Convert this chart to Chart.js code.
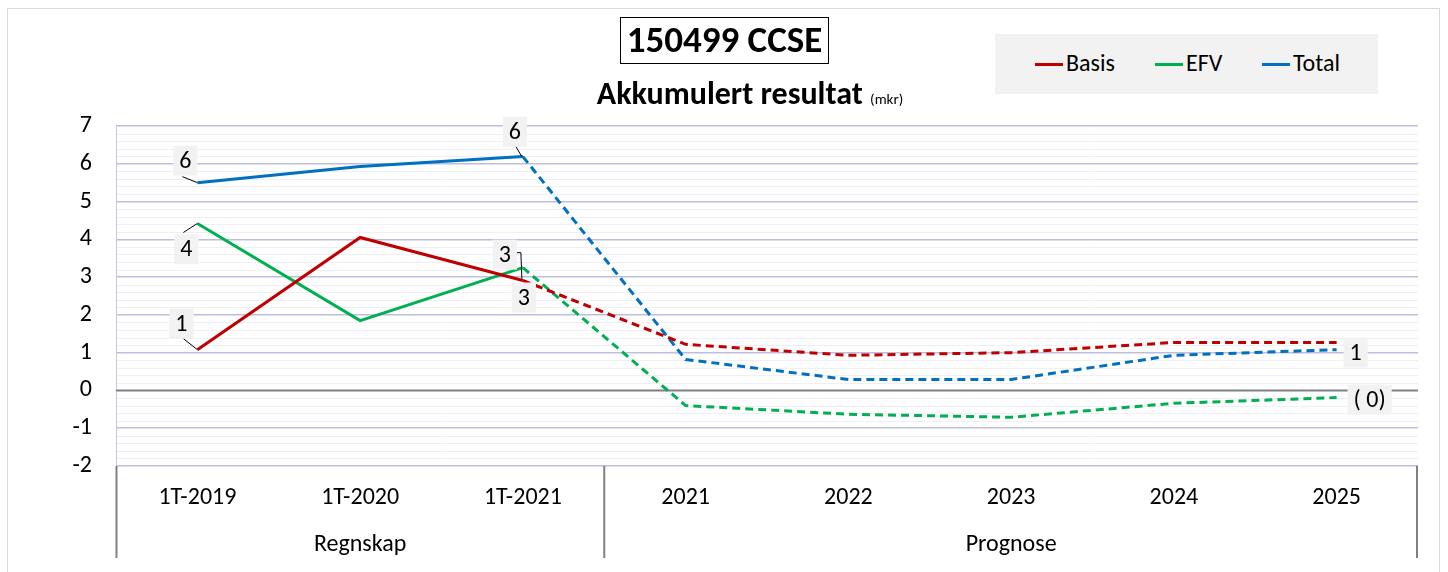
<!DOCTYPE html>
<html>
<head>
<meta charset="utf-8">
<script src="https://cdn.jsdelivr.net/npm/chart.js@4"></script>
<style>
  html, body { margin:0; padding:0; background:#fff; }
  body { width:1448px; height:572px; position:relative; overflow:hidden; font-family: Carlito, Lato, "Open Sans", sans-serif; }
  #frame { position:absolute; left:7px; top:8px; width:1433px; height:600px; border:1px solid #d9d9d9; box-sizing:border-box; }
  #wrap { position:absolute; left:0; top:0; width:1448px; height:572px; }
  #title { position:absolute; left:620px; top:17px; width:209px; height:47px; border:1.5px solid #000; box-sizing:border-box;
           font-weight:bold; font-size:37px; line-height:44px; text-align:center; color:#000; white-space:nowrap; }
  #subtitle { position:absolute; left:500px; width:500px; top:76px; text-align:center; font-weight:bold; font-size:32px; line-height:36px; color:#000; white-space:nowrap; }
  #subtitle span { font-weight:normal; font-size:15px; }
  #legend { position:absolute; left:995px; top:34px; width:383px; height:60px; background:#f2f2f2; }
  .li { position:absolute; top:15px; font-size:24px; line-height:28px; color:#000; white-space:nowrap; }
  .li i { display:inline-block; width:28px; height:3px; vertical-align:middle; margin-right:3px; position:relative; top:-1px; }
</style>
</head>
<body>
<div id="frame"></div>
<div id="wrap"><canvas id="c" width="1448" height="572"></canvas></div>
<div id="title">150499 CCSE</div>
<div id="subtitle">Akkumulert resultat <span>(mkr)</span></div>
<div id="legend">
  <div class="li" style="left:40px"><i style="background:#c00000"></i>Basis</div>
  <div class="li" style="left:160px"><i style="background:#00b050"></i>EFV</div>
  <div class="li" style="left:267px"><i style="background:#0070c0"></i>Total</div>
</div>
<script>
// ---- data ----
const categories = ["1T-2019","1T-2020","1T-2021","2021","2022","2023","2024","2025"];
const groups = ["Regnskap","Prognose"];
const groupSizes = [3,5];
const basis = [1.08, 4.05, 2.91, 1.22, 0.93, 1.00, 1.27, 1.27];
const efv   = [4.42, 1.85, 3.25, -0.40, -0.63, -0.71, -0.34, -0.19];
const total = [5.50, 5.93, 6.19, 0.82, 0.29, 0.29, 0.93, 1.08];
const yTicks = [-2,-1,0,1,2,3,4,5,6,7];

// ---- styling / label placement (not data) ----
const FONT = 'Carlito, Lato, "Open Sans", sans-serif';
const FS = 24;
const labelSpecs = [
  {ds:2, i:0, dx:-12, dy:-22, leader:[[-15,-6],[0,0]]},
  {ds:1, i:0, dx:-11, dy:26, leader:[[-14,9],[0,0]]},
  {ds:0, i:0, dx:-16, dy:-26, leader:[[-14,-11],[0,0]]},
  {ds:2, i:2, dx:-8, dy:-25, leader:[[-7,-10],[-1,0]]},
  {ds:1, i:2, dx:-18, dy:-13, leader:[[-6,-15],[-2,-15],[-1,11]]},
  {ds:0, i:2, dx:1, dy:17, leader:null},
  {ds:2, i:7, dx:19, dy:3, leader:null},
  {ds:1, i:7, dx:33, dy:2, leader:null}
];
function fmt(v){ const r = Math.round(Math.abs(v)); return v < 0 ? '( ' + r + ')' : String(r); }

const dashSeg = { borderDash: ctx => ctx.p0DataIndex >= 2 ? [8,5] : undefined };

const bgPlugin = {
  id:'minorGrid',
  beforeDatasetsDraw(chart){
    const {ctx, chartArea:a, scales:{y}} = chart;
    ctx.save();
    ctx.strokeStyle = '#efeff5'; ctx.lineWidth = 1;
    for (let k = -2; k < 7; k++) {
      for (let m = 1; m < 5; m++) {
        const py = Math.round(y.getPixelForValue(k + m*0.2)) + 0.5;
        ctx.beginPath(); ctx.moveTo(a.left, py); ctx.lineTo(a.right, py); ctx.stroke();
      }
    }
    ctx.strokeStyle = '#c8c8e0'; ctx.lineWidth = 1;
    ctx.beginPath(); ctx.moveTo(a.left+0.5, a.top); ctx.lineTo(a.left+0.5, a.bottom); ctx.stroke();
    const z = y.getPixelForValue(0);
    ctx.strokeStyle = '#808080'; ctx.lineWidth = 2;
    ctx.beginPath(); ctx.moveTo(a.left, z); ctx.lineTo(a.right, z); ctx.stroke();
    ctx.restore();
  },
  afterDraw(chart){
    const {ctx, chartArea:a, scales:{x, y}} = chart;
    ctx.save();
    const step = (a.right - a.left) / categories.length;
    ctx.fillStyle = '#000';
    ctx.font = FS + 'px ' + FONT;
    ctx.textAlign = 'center'; ctx.textBaseline = 'middle';
    categories.forEach((c, i) => ctx.fillText(c, x.getPixelForValue(i), a.bottom + 32));
    ctx.strokeStyle = '#808080'; ctx.lineWidth = 2;
    let start = 0;
    const bottomY = a.bottom + 92;
    const drawV = (px) => { ctx.beginPath(); ctx.moveTo(px, a.bottom); ctx.lineTo(px, bottomY); ctx.stroke(); };
    drawV(a.left + 0.5);
    groups.forEach((g, gi) => {
      const l = a.left + start*step, r = a.left + (start + groupSizes[gi])*step;
      ctx.fillText(g, (l + r)/2, a.bottom + 79);
      drawV(gi === groups.length-1 ? r - 1 : r);
      start += groupSizes[gi];
    });
    labelSpecs.forEach(s => {
      const pt = chart.getDatasetMeta(s.ds).data[s.i];
      const v = chart.data.datasets[s.ds].data[s.i];
      const txt = fmt(v);
      const cx = pt.x + s.dx, cy = pt.y + s.dy;
      const w = ctx.measureText(txt).width + 12, h = 30;
      if (s.leader) {
        ctx.strokeStyle = '#000'; ctx.lineWidth = 1;
        ctx.beginPath();
        s.leader.forEach((p, k) => { if (k === 0) ctx.moveTo(pt.x + p[0], pt.y + p[1]); else ctx.lineTo(pt.x + p[0], pt.y + p[1]); });
        ctx.stroke();
      }
      ctx.fillStyle = '#f2f2f2';
      ctx.fillRect(cx - w/2, cy - h/2, w, h);
      ctx.fillStyle = '#000';
      ctx.fillText(txt, cx, cy + 1);
    });
    ctx.restore();
  }
};

new Chart(document.getElementById('c'), {
  type:'line',
  data:{
    labels: categories,
    datasets:[
      {label:'Basis', data:basis, borderColor:'#c00000', borderWidth:3, pointRadius:0, segment:dashSeg, tension:0},
      {label:'EFV', data:efv, borderColor:'#00b050', borderWidth:3, pointRadius:0, segment:dashSeg, tension:0},
      {label:'Total', data:total, borderColor:'#0070c0', borderWidth:3, pointRadius:0, segment:dashSeg, tension:0}
    ]
  },
  options:{
    responsive:false, animation:false, events:[],
    layout:{ padding:{ top:126, right:30, bottom:0, left:0 } },
    plugins:{ legend:{display:false}, tooltip:{enabled:false}, title:{display:false} },
    scales:{
      x:{ type:'category', offset:true, grid:{display:false, drawTicks:false}, border:{display:false},
          ticks:{display:false}, afterFit(s){ s.height = 106; } },
      y:{ min:-2, max:7, border:{display:false},
          afterBuildTicks(s){ s.ticks = yTicks.map(v => ({value:v})); },
          afterFit(s){ s.width = 116; },
          grid:{ drawTicks:false, color: c => c.tick && c.tick.value === 0 ? 'rgba(0,0,0,0)' : '#bdbddd', lineWidth: 1.5 },
          ticks:{ padding:24, color:'#000', font:{family:FONT, size:FS}, callback:v => String(v) } }
    }
  },
  plugins:[bgPlugin]
});
</script>
</body>
</html>
